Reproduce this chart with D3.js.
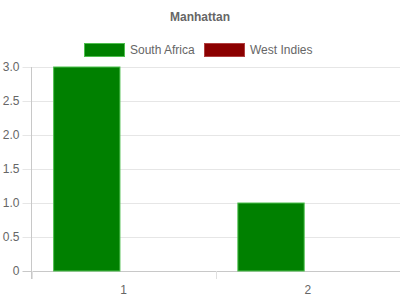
<!DOCTYPE html>
<html>
<head>
<meta charset="utf-8">
<script src="https://cdn.jsdelivr.net/npm/d3@7"></script>
<style>
  body { margin: 0; background: #fff; }
  svg { display: block; font-family: "Liberation Sans", Arial, sans-serif; }
</style>
</head>
<body>
<div id="chart"></div>
<script>
var categories = ["1", "2"];
var seriesNames = ["South Africa", "West Indies"];
var southAfrica = [3, 1];
var westIndies = [0, 0];
var yTicks = [0, 0.5, 1, 1.5, 2, 2.5, 3];

var fills = ["#008000", "#8b0000"];
var borders = ["#4fbf4f", "#b04040"];
var allSeries = [southAfrica, westIndies];

var width = 400, height = 300;
var plotLeft = 31.5, plotRight = 400, plotTop = 67, plotBottom = 271;

var svg = d3.select("#chart").append("svg")
    .attr("width", width)
    .attr("height", height);

// title
svg.append("text")
    .attr("x", 200).attr("y", 21)
    .attr("text-anchor", "middle")
    .attr("font-size", "12px")
    .attr("font-weight", "bold")
    .attr("fill", "#666")
    .text("Manhattan");

// legend
var legendX = [84, 204];
var legend = svg.selectAll(".legend")
    .data(seriesNames)
    .enter().append("g")
    .attr("transform", function(d, i) { return "translate(" + legendX[i] + ",43)"; });
legend.append("rect")
    .attr("x", 0.5).attr("y", 0.5)
    .attr("width", 40).attr("height", 13)
    .attr("fill", function(d, i) { return fills[i]; })
    .attr("stroke", function(d, i) { return borders[i]; });
legend.append("text")
    .attr("x", 46).attr("y", 11)
    .attr("font-size", "12px")
    .attr("fill", "#666")
    .text(function(d) { return d; });

var y = d3.scaleLinear().domain([0, 3]).range([plotBottom, plotTop]);
var x0 = d3.scaleBand().domain(categories).range([plotLeft, plotRight]);

// gridlines
svg.selectAll(".grid")
    .data(yTicks)
    .enter().append("line")
    .attr("x1", plotLeft - 9).attr("x2", plotRight)
    .attr("y1", function(d) { return Math.round(y(d)) + 0.5; })
    .attr("y2", function(d) { return Math.round(y(d)) + 0.5; })
    .attr("stroke", function(d) { return d === 0 ? "#c8c8c8" : "#e6e6e6"; });

// y axis
var yAxis = svg.append("g")
    .attr("transform", "translate(" + plotLeft + ",0)")
    .call(d3.axisLeft(y).tickValues(yTicks).tickSize(0).tickPadding(12)
        .tickFormat(function(d) { return d === 0 ? "0" : d3.format(".1f")(d); }));
yAxis.select(".domain").remove();
yAxis.selectAll("text").attr("font-size", "12px").attr("fill", "#666")
    .attr("font-family", "Liberation Sans, Arial, sans-serif");
svg.append("line")
    .attr("x1", plotLeft).attr("x2", plotLeft)
    .attr("y1", plotTop).attr("y2", plotBottom + 8)
    .attr("stroke", "#c8c8c8");

// x axis ticks at category boundaries
svg.selectAll(".xtick")
    .data(categories)
    .enter().append("line")
    .attr("x1", function(d) { return Math.round(x0(d)) + 0.5; })
    .attr("x2", function(d) { return Math.round(x0(d)) + 0.5; })
    .attr("y1", plotBottom).attr("y2", plotBottom + 8)
    .attr("stroke", "#e0e0e0");
svg.selectAll(".xlabel")
    .data(categories)
    .enter().append("text")
    .attr("x", function(d) { return x0(d) + x0.bandwidth() / 2; })
    .attr("y", 294)
    .attr("text-anchor", "middle")
    .attr("font-size", "12px")
    .attr("fill", "#666")
    .text(function(d) { return d; });

// bars
var groupPad = x0.bandwidth() * 0.1;
var barSlot = x0.bandwidth() * 0.8 / seriesNames.length;
allSeries.forEach(function(vals, s) {
  svg.selectAll(".bar" + s)
      .data(vals)
      .enter().append("rect")
      .attr("x", function(d, i) { return x0(categories[i]) + groupPad + s * barSlot + barSlot * 0.05; })
      .attr("width", barSlot * 0.9)
      .attr("y", function(d) { return y(d); })
      .attr("height", function(d) { return plotBottom - y(d); })
      .attr("fill", fills[s])
      .attr("stroke", function(d) { return d > 0 ? borders[s] : "none"; })
      .attr("stroke-width", 1);
});
</script>
</body>
</html>
